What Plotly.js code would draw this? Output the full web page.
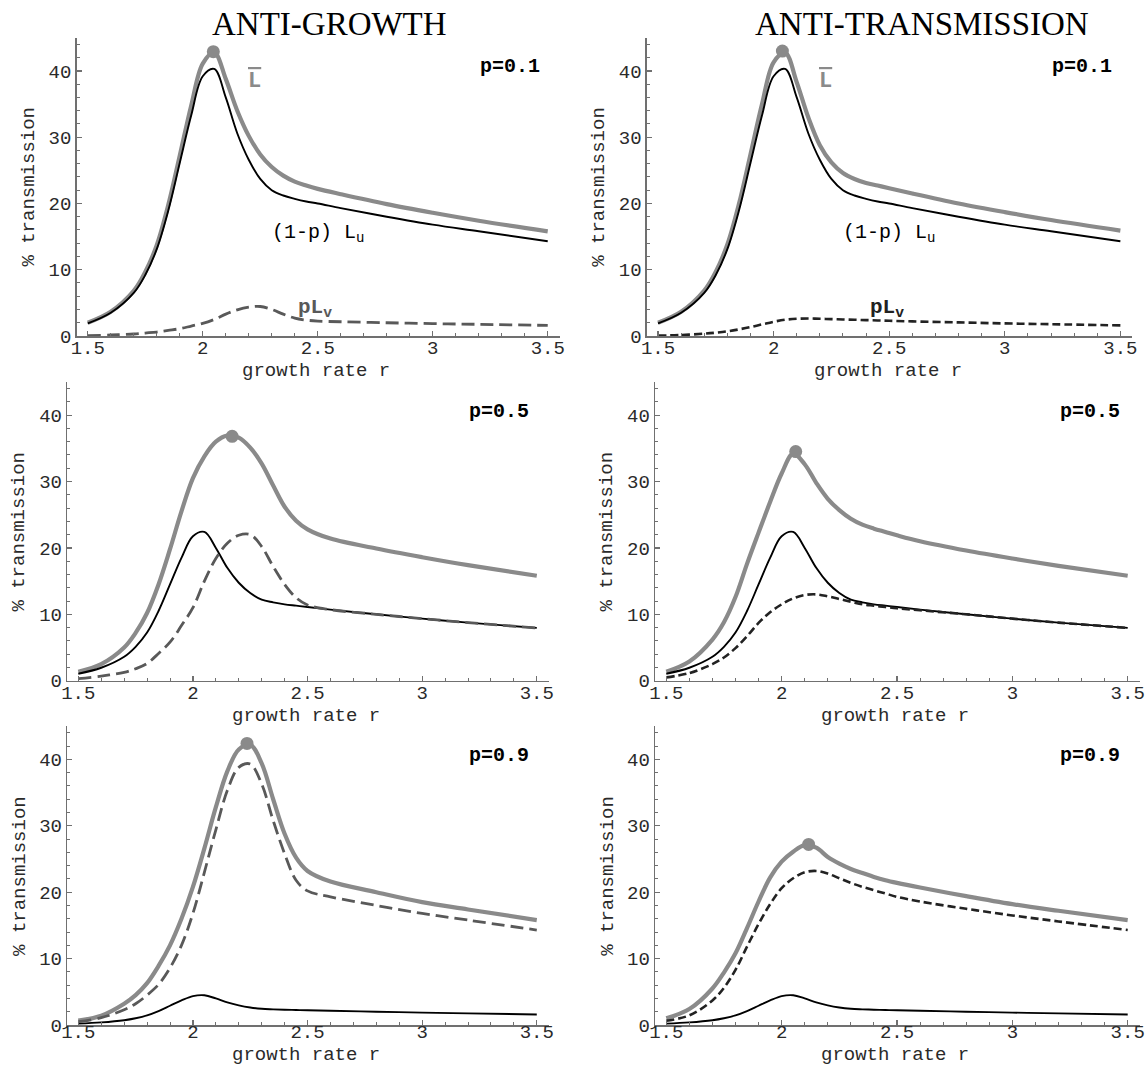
<!DOCTYPE html>
<html><head><meta charset="utf-8">
<script src="https://cdn.plot.ly/plotly-3.0.1.min.js"></script>
<style>html,body{margin:0;padding:0;background:#fff;}#chart{width:1145px;height:1067px;}</style>
</head><body><div id="chart"></div>
<script>
// ---------- DATA ----------
const growthRate = [1.5,1.6,1.7,1.75,1.8,1.85,1.9,1.95,2.0,2.05,2.1,2.15,2.2,2.25,2.3,2.35,2.4,2.45,2.5,2.6,2.8,3.0,3.2,3.5];

// (1-p) L_u  (same in both columns)
const uninf_p01 = [1.9,3.5,6.5,9.2,13.1,18.9,26.1,33.3,39.2,40.3,36.0,30.6,26.6,23.7,22.0,21.2,20.7,20.3,20.0,19.3,18.0,16.8,15.8,14.3];
const uninf_p05 = [1.05,1.95,3.6,5.1,7.25,10.5,14.5,18.5,21.75,22.4,20.0,17.0,14.75,13.2,12.2,11.8,11.5,11.3,11.1,10.7,10.0,9.35,8.75,7.95];
const uninf_p09 = [0.21,0.39,0.72,1.02,1.45,2.1,2.9,3.7,4.35,4.48,4.0,3.4,2.95,2.63,2.44,2.36,2.3,2.26,2.22,2.14,2.0,1.87,1.75,1.59];

// ANTI-GROWTH column: total L-bar and p L_v
const growthTotal_p01 = [2.0,3.65,6.8,9.65,13.7,19.75,27.2,34.8,41.1,42.8,38.8,34.0,30.2,27.4,25.5,24.2,23.3,22.7,22.2,21.4,19.9,18.6,17.4,15.8];
const growthVacc_p01  = [0.05,0.15,0.3,0.45,0.6,0.85,1.1,1.5,1.9,2.5,3.3,3.95,4.35,4.45,4.0,3.3,2.7,2.4,2.25,2.15,2.0,1.87,1.76,1.6];
const growthTotal_p05 = [1.35,2.5,5.0,7.2,10.2,14.5,19.8,25.5,30.5,33.8,36.0,36.9,36.6,35.1,32.7,29.4,26.2,24.1,22.8,21.4,19.9,18.6,17.4,15.8];
const growthVacc_p05  = [0.3,0.7,1.25,1.8,2.6,4.1,5.8,8.3,11.0,15.0,18.4,20.7,21.9,22.0,20.2,17.2,14.5,12.5,11.4,10.7,10.0,9.35,8.75,7.95];
const growthTotal_p09 = [0.65,1.4,3.2,4.5,6.3,8.9,12.0,16.0,20.8,26.6,32.8,38.2,41.5,42.2,39.4,34.0,28.8,25.2,23.2,21.6,20.0,18.5,17.4,15.8];
const growthVacc_p09  = [0.5,1.1,2.3,3.2,4.5,6.1,8.6,12.0,16.8,23.0,29.4,35.3,38.8,39.3,36.3,30.8,25.8,21.8,20.2,19.3,18.0,16.8,15.8,14.3];

// ANTI-TRANSMISSION column
const transTotal_p01 = [2.0,3.65,6.85,9.7,13.8,19.9,27.4,35.0,41.3,42.75,38.3,33.0,28.8,26.2,24.6,23.7,23.1,22.7,22.3,21.5,20.0,18.7,17.5,15.9];
const transVacc_p01  = [0.05,0.15,0.35,0.5,0.7,1.0,1.35,1.75,2.15,2.45,2.6,2.65,2.6,2.55,2.5,2.45,2.4,2.35,2.3,2.2,2.05,1.9,1.78,1.6];
const transTotal_p05 = [1.35,2.9,6.2,8.8,12.6,17.6,22.3,26.9,31.2,34.2,32.6,29.8,27.4,25.7,24.4,23.5,22.9,22.4,21.9,21.0,19.6,18.4,17.3,15.8];
const transVacc_p05  = [0.5,1.15,2.5,3.5,4.9,6.7,8.7,10.3,11.5,12.4,12.9,13.0,12.7,12.3,11.9,11.5,11.3,11.1,10.9,10.6,10.0,9.35,8.75,7.95];
const transTotal_p09 = [1.0,2.4,5.5,7.9,10.8,14.6,18.6,22.2,24.6,26.1,27.1,26.7,25.3,24.3,23.5,22.9,22.3,21.8,21.4,20.7,19.4,18.2,17.2,15.8];
const transVacc_p09  = [0.65,1.45,3.7,5.6,8.3,11.8,15.2,18.2,20.6,22.1,23.0,23.2,22.8,22.1,21.4,20.8,20.3,19.8,19.3,18.6,17.5,16.5,15.6,14.3];

// maxima of L-bar (grey dots)
const growthPeakR = [2.046, 2.171, 2.236];
const growthPeakL = [42.9, 36.8, 42.4];
const transPeakR  = [2.038, 2.061, 2.117];
const transPeakL  = [43.0, 34.5, 27.2];

const pLabels = ['p=0.1', 'p=0.5', 'p=0.9'];
const columnTitles = ['ANTI-GROWTH', 'ANTI-TRANSMISSION'];
const xTickVals = [1.5, 2, 2.5, 3, 3.5];
const xTickText = ['1.5', '2', '2.5', '3', '3.5'];
const yTickVals = [0, 10, 20, 30, 40];
const yTickText = ['0', '10', '20', '30', '40'];
const xTitle = 'growth rate r';
const yTitle = '% transmission';

// ---------- LAYOUT GEOMETRY (pixels) ----------
const W = 1145, H = 1067;
// [left, right, bottom, top]
const boxes = [
  [76.7, 559.7, 336, 37.8], [646.9, 1132.4, 336, 37.8],
  [67.3, 548.7, 680.7, 381.9], [655.2, 1139.7, 680.7, 381.9],
  [67.3, 548.7, 1025, 726.2], [655.2, 1139.7, 1025, 726.2]
];
const xTitleGap = [35, 35, 35, 35, 30, 30];
const xLabelShift = [-6, -6, -6, -6, -11, -11];
const panels = [
  {tot: growthTotal_p01, un: uninf_p01, va: growthVacc_p01, pr: growthPeakR[0], pl: growthPeakL[0], p: pLabels[0], col: 0},
  {tot: transTotal_p01,  un: uninf_p01, va: transVacc_p01,  pr: transPeakR[0],  pl: transPeakL[0],  p: pLabels[0], col: 1},
  {tot: growthTotal_p05, un: uninf_p05, va: growthVacc_p05, pr: growthPeakR[1], pl: growthPeakL[1], p: pLabels[1], col: 0},
  {tot: transTotal_p05,  un: uninf_p05, va: transVacc_p05,  pr: transPeakR[1],  pl: transPeakL[1],  p: pLabels[1], col: 1},
  {tot: growthTotal_p09, un: uninf_p09, va: growthVacc_p09, pr: growthPeakR[2], pl: growthPeakL[2], p: pLabels[2], col: 0},
  {tot: transTotal_p09,  un: uninf_p09, va: transVacc_p09,  pr: transPeakR[2],  pl: transPeakL[2],  p: pLabels[2], col: 1}
];

const GREY = '#8a8a8a';
const dashStyle = [
  {color: '#595959', dash: '13px,6px', width: 2.8},
  {color: '#222222', dash: '8px,4px', width: 2.6}
];
const MONO = 'Liberation Mono, Courier New, monospace';
const axisColor = '#707070';
const textColor = '#2a2a2a';
const tickFont = {family: MONO, size: 19, color: textColor};
const titleFont = {family: MONO, size: 19, color: textColor};

const traces = [];
const layout = {
  width: W, height: H,
  margin: {l: 0, r: 0, t: 0, b: 0},
  paper_bgcolor: '#fff', plot_bgcolor: 'rgba(0,0,0,0)',
  showlegend: false,
  annotations: []
};

panels.forEach((pn, i) => {
  const n = i === 0 ? '' : String(i + 1);
  const xa = 'x' + n, ya = 'y' + n;
  const b = boxes[i];
  const line = (y, color, width, dash) => ({
    x: growthRate, y: y, xaxis: xa, yaxis: ya, type: 'scatter', mode: 'lines',
    line: {color: color, width: width, dash: dash || 'solid', shape: 'spline', smoothing: 1},
    hoverinfo: 'skip'
  });
  traces.push(line(pn.tot, GREY, 4.2));
  traces.push(line(pn.un, '#000', 1.9));
  const ds = dashStyle[pn.col];
  traces.push(line(pn.va, ds.color, ds.width, ds.dash));
  traces.push({x: [pn.pr], y: [pn.pl], xaxis: xa, yaxis: ya, type: 'scatter', mode: 'markers',
    marker: {color: GREY, size: 13}, hoverinfo: 'skip', cliponaxis: false});

  layout['xaxis' + n] = {
    domain: [b[0] / W, b[1] / W], range: [1.452, 3.552], anchor: ya,
    showline: true, linecolor: axisColor, linewidth: 1.5, mirror: false,
    showgrid: false, zeroline: false,
    tickmode: 'array', tickvals: xTickVals, ticktext: xTickText,
    ticks: 'inside', ticklen: 5, tickwidth: 1.2, tickcolor: axisColor,
    tickfont: tickFont, ticklabeloverflow: 'allow', ticklabelstandoff: xLabelShift[i],
    minor: {tickmode: 'linear', tick0: 1.5, dtick: 0.1, ticks: 'inside', ticklen: 3, tickwidth: 1, tickcolor: axisColor, showgrid: false},
    fixedrange: true
  };
  layout['yaxis' + n] = {
    domain: [1 - b[2] / H, 1 - b[3] / H], range: [0, 45], anchor: xa,
    showline: true, linecolor: axisColor, linewidth: 1.5, mirror: false,
    showgrid: false, zeroline: false,
    tickmode: 'array', tickvals: yTickVals, ticktext: yTickText,
    ticks: 'inside', ticklen: 5, tickwidth: 1.2, tickcolor: axisColor,
    tickfont: tickFont, ticklabeloverflow: 'allow',
    minor: {tickmode: 'linear', tick0: 0, dtick: 2, ticks: 'inside', ticklen: 3, tickwidth: 1, tickcolor: axisColor, showgrid: false},
    fixedrange: true
  };

  // axis titles (placed explicitly so the bottom row does not collide)
  layout.annotations.push({xref: 'paper', yref: 'paper', x: ((b[0] + b[1]) / 2 - 2) / W, y: 1 - (b[2] + xTitleGap[i]) / H,
    text: xTitle, showarrow: false, font: titleFont, xanchor: 'center', yanchor: 'middle'});
  layout.annotations.push({xref: 'paper', yref: 'paper', x: (b[0] - 48) / W, y: 1 - ((b[2] + b[3]) / 2) / H,
    text: yTitle, textangle: -90, showarrow: false, font: titleFont, xanchor: 'center', yanchor: 'middle'});

  layout.annotations.push({xref: xa, yref: ya, x: 3.335, y: 40.6, text: '<b>' + pn.p + '</b>',
    showarrow: false, font: {family: MONO, size: 20, color: '#000'}, xanchor: 'center', yanchor: 'middle'});

  if (i < 2) {
    layout.annotations.push({xref: xa, yref: ya, x: 2.225, y: 38.4,
      text: '<b><span style="text-decoration:overline">L</span></b>',
      showarrow: false, font: {family: MONO, size: 22, color: GREY}, xanchor: 'center', yanchor: 'middle'});
    layout.annotations.push({xref: xa, yref: ya, x: 2.50, y: 15.5, text: '(1-p) L<sub>u</sub>',
      showarrow: false, font: {family: MONO, size: 20, color: '#000'}, xanchor: 'center', yanchor: 'middle'});
    layout.annotations.push({xref: xa, yref: ya, x: 2.49, y: 4.1, text: '<b>pL<sub>v</sub></b>',
      showarrow: false, font: {family: MONO, size: 21, color: ds.color}, xanchor: 'center', yanchor: 'middle'});
  }
});

layout.annotations.push({xref: 'paper', yref: 'paper', x: 329 / W, y: 1 - 24 / H, text: columnTitles[0],
  showarrow: false, font: {family: 'Liberation Serif, Times New Roman, serif', size: 33, color: '#000'}, xanchor: 'center', yanchor: 'middle'});
layout.annotations.push({xref: 'paper', yref: 'paper', x: 922 / W, y: 1 - 24 / H, text: columnTitles[1],
  showarrow: false, font: {family: 'Liberation Serif, Times New Roman, serif', size: 33, color: '#000'}, xanchor: 'center', yanchor: 'middle'});

Plotly.newPlot('chart', traces, layout, {staticPlot: true, displayModeBar: false});
</script>
</body></html>
